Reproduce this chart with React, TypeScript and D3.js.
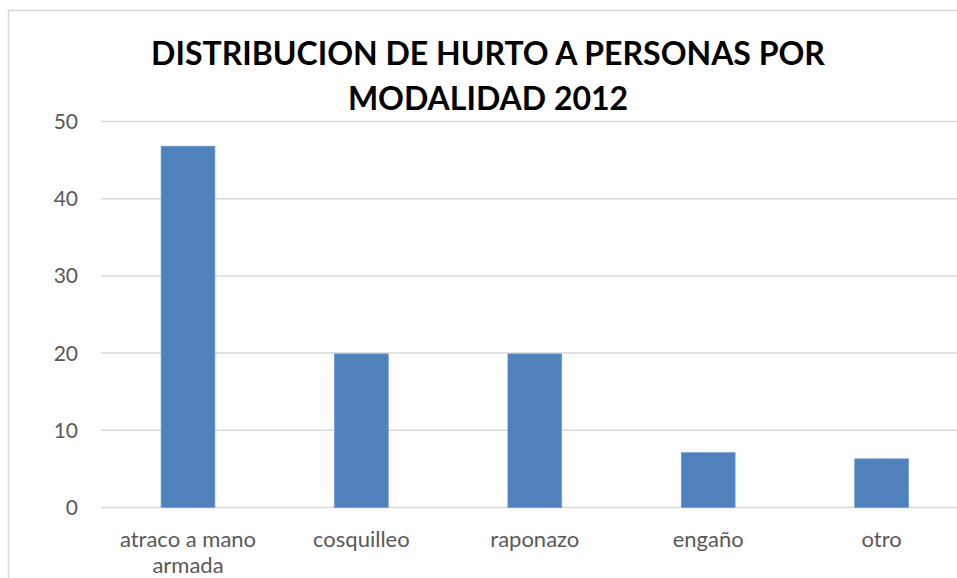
import React from "react";
import * as d3 from "d3";

const titleLines = ["DISTRIBUCION DE HURTO A PERSONAS POR", "MODALIDAD 2012"];
const categories = ["atraco a mano armada", "cosquilleo", "raponazo", "engaño", "otro"];
const values = [46.8, 19.9, 19.9, 7.1, 6.3];
const yTicks = [0, 10, 20, 30, 40, 50];

const W = 957;
const H = 578;

function wrap(label: string, maxChars: number): string[] {
  const words = label.split(" ");
  const lines: string[] = [];
  let cur = "";
  for (const w of words) {
    const next = cur ? cur + " " + w : w;
    if (next.length > maxChars && cur) {
      lines.push(cur);
      cur = w;
    } else cur = next;
  }
  if (cur) lines.push(cur);
  return lines;
}

export default function App() {
  const x = d3
    .scaleBand<string>()
    .domain(categories)
    .range([101.3, 968.3])
    .paddingInner(0.69)
    .paddingOuter(0.345);
  const y = d3.scaleLinear().domain([0, 50]).range([507.5, 121.5]);
  const font = "Lato, 'Open Sans', sans-serif";

  return (
    <svg
      width={W}
      height={H}
      style={{ position: "absolute", left: 0, top: 0, background: "#fff" }}
    >
      <rect x={0} y={0} width={W} height={H} fill="#fff" />
      <rect x={8.5} y={10.5} width={W + 20} height={H + 20} fill="none" stroke="#d9d9d9" strokeWidth={1.5} />
      {titleLines.map((t, i) => (
        <text
          key={t}
          x={488}
          y={65 + i * 45}
          textAnchor="middle"
          fontFamily={font}
          fontWeight="bold"
          fontSize={32}
          fill="#000"
        >
          {t}
        </text>
      ))}
      {yTicks.map((t) => (
        <g key={t}>
          <line x1={101} x2={W} y1={y(t)} y2={y(t)} stroke="#d9d9d9" strokeWidth={1.5} />
          <text
            x={78}
            y={y(t) + 7.5}
            textAnchor="end"
            fontFamily={font}
            fontSize={21}
            fill="#595959"
          >
            {t}
          </text>
        </g>
      ))}
      {categories.map((c, i) => (
        <rect
          key={c}
          x={x(c)}
          y={y(values[i])}
          width={x.bandwidth()}
          height={y(0) - y(values[i])}
          fill="#4f81bd"
          stroke="#6f9ad0"
          strokeWidth={0.8}
        />
      ))}
      {categories.map((c) => {
        const lines = wrap(c, 14);
        const cx = (x(c) as number) + x.bandwidth() / 2;
        return (
          <text key={c} textAnchor="middle" fontFamily={font} fontSize={22} fill="#595959">
            {lines.map((l, j) => (
              <tspan key={j} x={cx} y={546.5 + j * 26.5}>
                {l}
              </tspan>
            ))}
          </text>
        );
      })}
    </svg>
  );
}
